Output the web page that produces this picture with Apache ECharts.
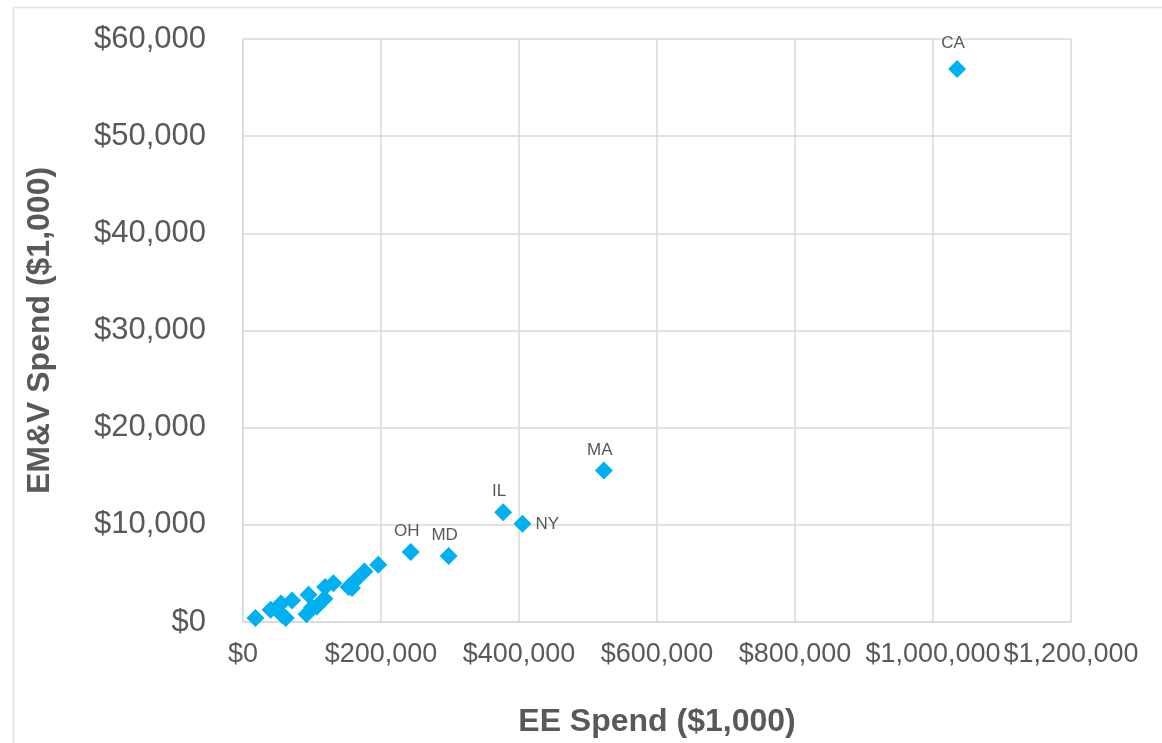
<!DOCTYPE html>
<html>
<head>
<meta charset="utf-8">
<script src="https://cdn.jsdelivr.net/npm/echarts@6/dist/echarts.min.js"></script>
<style>
html,body{margin:0;padding:0;background:#fff;}
#chart{width:1162px;height:743px;}
</style>
</head>
<body>
<div id="chart"></div>
<script>
// EE spend ($1,000) per state
const eeSpend = [18000, 40000, 55000, 57000, 62000, 71000, 92000, 95000, 100000, 107000, 118000, 119000, 131000, 153000, 158000, 163000, 176000, 196000, 243000, 298000, 377000, 405000, 523000, 1035000];
// EM&V spend ($1,000) per state
const emvSpend = [400, 1250, 1900, 700, 400, 2200, 800, 2800, 1500, 1600, 2400, 3600, 4000, 3600, 3500, 4300, 5200, 5900, 7200, 6800, 11300, 10100, 15600, 56900];
// labels (only for the named states)
const stateLabels = ['', '', '', '', '', '', '', '', '', '', '', '', '', '', '', '', '', '', 'OH', 'MD', 'IL', 'NY', 'MA', 'CA'];
const labelPos = ['top', 'top', 'top', 'top', 'top', 'top', 'top', 'top', 'top', 'top', 'top', 'top', 'top', 'top', 'top', 'top', 'top', 'top', 'top', 'top', 'top', 'right', 'top', 'top'];

const xTicks = [0, 200000, 400000, 600000, 800000, 1000000, 1200000];
const yTicks = [0, 10000, 20000, 30000, 40000, 50000, 60000];

function money(v) {
  return '$' + v.toLocaleString('en-US');
}

const data = eeSpend.map((x, i) => {
  const isRight = labelPos[i] === 'right';
  const isCA = stateLabels[i] === 'CA';
  return {
    value: [x, emvSpend[i]],
    label: {
      show: stateLabels[i] !== '',
      formatter: stateLabels[i],
      position: labelPos[i],
      distance: isRight ? 4 : (isCA ? 8 : 3),
      offset: isRight ? [0, 0] : [-4, 0]
    }
  };
});

const chart = echarts.init(document.getElementById('chart'));
const textColor = '#595959';
const gridColor = '#D9D9D9';
const ff = 'Liberation Sans, Arial, sans-serif';
chart.setOption({
  animation: false,
  textStyle: { fontFamily: ff },
  graphic: [{
    type: 'rect',
    silent: true,
    shape: { x: 13.5, y: 7.5, width: 1300, height: 900 },
    style: { fill: 'none', stroke: '#E3E3E3', lineWidth: 1.5 }
  }],
  grid: { left: 243, right: 91, top: 39, bottom: 121, containLabel: false },
  xAxis: {
    type: 'value',
    min: xTicks[0],
    max: xTicks[xTicks.length - 1],
    interval: xTicks[1] - xTicks[0],
    name: 'EE Spend ($1,000)',
    nameLocation: 'middle',
    nameGap: 84,
    nameTextStyle: { color: textColor, fontSize: 32, fontWeight: 'bold', fontFamily: ff },
    axisLine: { show: true, lineStyle: { color: gridColor, width: 1.5 } },
    axisTick: { show: false },
    axisLabel: { color: textColor, fontSize: 27, margin: 19, formatter: money, fontFamily: ff },
    splitLine: { show: true, lineStyle: { color: gridColor, width: 1.5 } }
  },
  yAxis: {
    type: 'value',
    min: yTicks[0],
    max: yTicks[yTicks.length - 1],
    interval: yTicks[1] - yTicks[0],
    name: 'EM&V Spend ($1,000)',
    nameLocation: 'middle',
    nameGap: 187,
    nameTextStyle: { color: textColor, fontSize: 32, fontWeight: 'bold', fontFamily: ff },
    axisLine: { show: true, lineStyle: { color: gridColor, width: 1.5 } },
    axisTick: { show: false },
    axisLabel: { color: textColor, fontSize: 31, margin: 37, formatter: money, fontFamily: ff },
    splitLine: { show: true, lineStyle: { color: gridColor, width: 1.5 } }
  },
  series: [{
    type: 'scatter',
    symbol: 'diamond',
    symbolSize: 18,
    itemStyle: { color: '#00B0F0', opacity: 1 },
    label: { color: textColor, fontSize: 17, fontFamily: ff },
    data: data
  }]
});
</script>
</body>
</html>
